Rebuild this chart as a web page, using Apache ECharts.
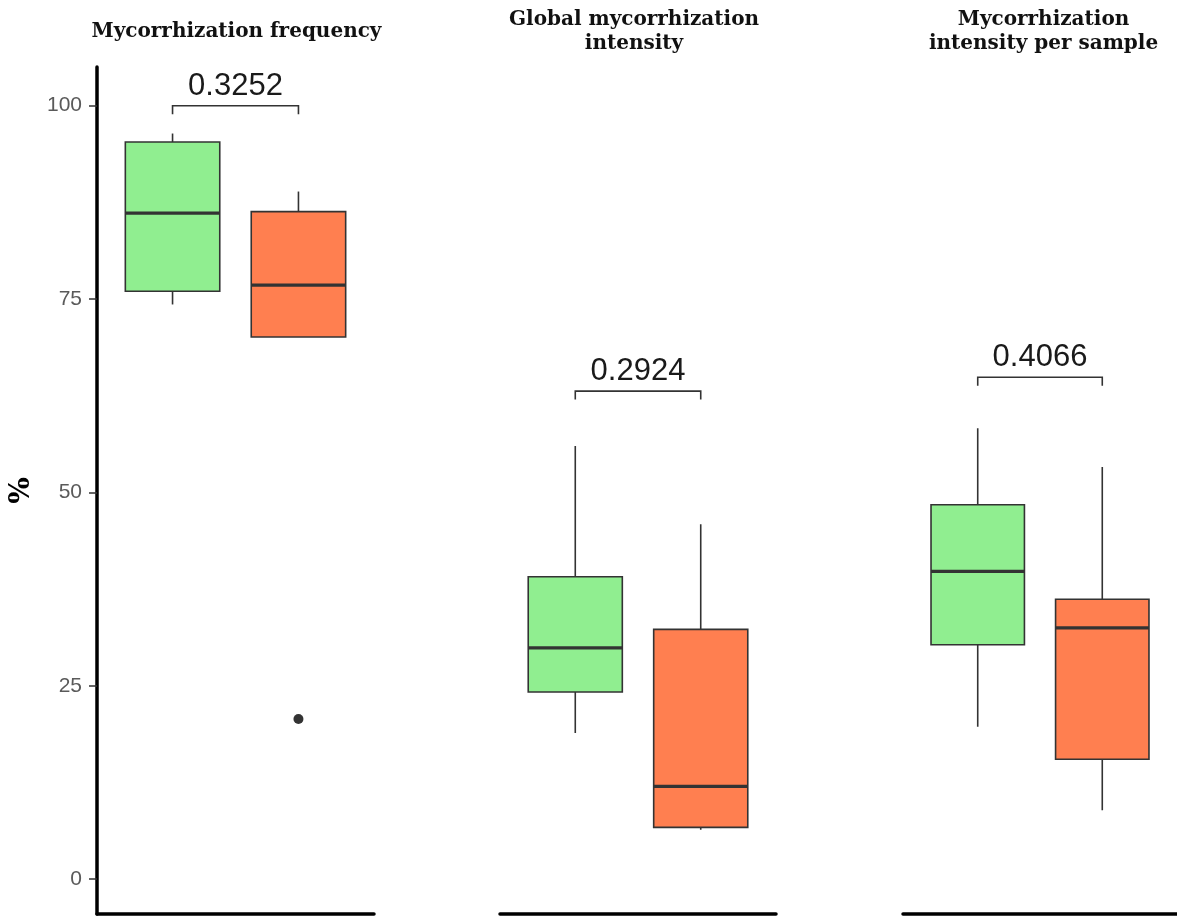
<!DOCTYPE html>
<html>
<head>
<meta charset="utf-8">
<script src="https://cdn.jsdelivr.net/npm/echarts@6/dist/echarts.min.js"></script>
<style>
html,body{margin:0;padding:0;background:#fff;}
#chart{width:1177px;height:921px;}
</style>
</head>
<body>
<div id="chart"></div>
<script>
// ---- data ----
const panelTitles = ["Mycorrhization frequency", "Global mycorrhization\nintensity", "Mycorrhization\nintensity per sample"];
const groupPositions = [1, 2];
// [lower whisker, Q1, median, Q3, upper whisker]
const greenStats = [
  [74.3, 76.0, 86.1, 95.3, 96.4],
  [18.9, 24.2, 29.9, 39.1, 56.0],
  [19.7, 30.3, 39.8, 48.4, 58.3]
];
const orangeStats = [
  [70.1, 70.1, 76.8, 86.3, 88.9],
  [6.4, 6.7, 12.0, 32.3, 45.9],
  [8.9, 15.5, 32.5, 36.2, 53.3]
];
// outliers per panel: [group position, value]
const outliers = [
  [[2, 20.7]],
  [],
  []
];
const pValues = ["0.3252", "0.2924", "0.4066"];
const bracketHeights = [100, 63.1, 64.9];
const yTicks = [0, 25, 50, 75, 100];

// ---- layout ----
const panelLeft = [97, 500, 903];
const panelWidth = [277, 276, 277];
const titleShift = [-4, -9, -3];
const gridTop = 67, gridHeight = 847;
const yMin = -4.5, yMax = 105;
const colors = ["#90EE90", "#FF7F50"];
const lineCol = "#333333";

const chart = echarts.init(document.getElementById('chart'));

const grids = [], xAxes = [], yAxes = [], series = [], titles = [];

function boxRender(fill) {
  return function (params, api) {
    const x = api.value(0);
    const low = api.coord([x, api.value(1)]);
    const q1 = api.coord([x, api.value(2)]);
    const med = api.coord([x, api.value(3)]);
    const q3 = api.coord([x, api.value(4)]);
    const high = api.coord([x, api.value(5)]);
    const hw = api.size([0.75, 0])[0] / 2;
    const cx = low[0];
    return {
      type: 'group',
      children: [
        { type: 'line', shape: { x1: cx, y1: high[1], x2: cx, y2: low[1] },
          style: { stroke: lineCol, lineWidth: 1.6 } },
        { type: 'rect', shape: { x: cx - hw, y: q3[1], width: hw * 2, height: q1[1] - q3[1] },
          style: { fill: fill, stroke: lineCol, lineWidth: 1.6 } },
        { type: 'line', shape: { x1: cx - hw, y1: med[1], x2: cx + hw, y2: med[1] },
          style: { stroke: lineCol, lineWidth: 3.2 } }
      ]
    };
  };
}

for (let p = 0; p < 3; p++) {
  grids.push({ left: panelLeft[p], width: panelWidth[p], top: gridTop, height: gridHeight, containLabel: false });
  xAxes.push({
    type: 'value', gridIndex: p, min: 0.4, max: 2.6,
    axisLine: { show: true, onZero: false, lineStyle: { color: '#000', width: 3.5 } },
    axisTick: { show: false }, axisLabel: { show: false }, splitLine: { show: false }
  });
  yAxes.push({
    type: 'value', gridIndex: p, min: yMin, max: yMax,
    name: p === 0 ? '%' : '',
    nameLocation: 'middle', nameGap: 61, nameRotate: 90,
    nameTextStyle: { fontFamily: 'DejaVu Serif', fontWeight: 'bold', fontSize: 28, color: '#000' },
    axisLine: { show: p === 0, onZero: false, lineStyle: { color: '#000', width: 3.5 } },
    axisTick: { show: p === 0, length: 8, customValues: yTicks, lineStyle: { color: '#333', width: 1.5 } },
    axisLabel: { show: p === 0, customValues: yTicks, margin: 15, color: '#5a5a5a',
      fontFamily: 'Liberation Sans', fontSize: 21 },
    splitLine: { show: false }
  });
  const lines = panelTitles[p].split('\n').length;
  titles.push({
    text: panelTitles[p],
    left: panelLeft[p] + panelWidth[p] / 2 + titleShift[p],
    top: lines === 1 ? 15 : 3,
    textAlign: 'center',
    textStyle: { fontFamily: 'DejaVu Serif', fontWeight: 'bold', fontSize: 20, color: '#111', lineHeight: 24 }
  });
  const statsSets = [greenStats, orangeStats];
  for (let g = 0; g < 2; g++) {
    series.push({
      type: 'custom', xAxisIndex: p, yAxisIndex: p,
      renderItem: boxRender(colors[g]),
      encode: { x: 0, y: [1, 2, 3, 4, 5] },
      data: [[groupPositions[g]].concat(statsSets[g][p])],
      silent: true
    });
  }
  if (outliers[p].length) {
    series.push({
      type: 'scatter', xAxisIndex: p, yAxisIndex: p,
      data: outliers[p], symbol: 'circle', symbolSize: 10,
      itemStyle: { color: lineCol, opacity: 1 }, silent: true
    });
  }
  series.push({
    type: 'custom', xAxisIndex: p, yAxisIndex: p,
    encode: { x: [0, 1], y: 2 },
    data: [[groupPositions[0], groupPositions[1], bracketHeights[p]]],
    renderItem: (function (pi) {
      return function (params, api) {
        const y = api.value(2);
        const a = api.coord([api.value(0), y]);
        const b = api.coord([api.value(1), y]);
        const tip = api.size([0, 1.1])[1];
        return {
          type: 'group',
          children: [
            { type: 'polyline', shape: { points: [[a[0], a[1] + tip], a, b, [b[0], b[1] + tip]] },
              style: { stroke: lineCol, lineWidth: 1.6, fill: null } },
            { type: 'text', x: (a[0] + b[0]) / 2, y: a[1] - 4,
              style: { text: pValues[pi], fontFamily: 'Liberation Sans', fontSize: 31,
                fill: '#1a1a1a', textAlign: 'center', textVerticalAlign: 'bottom' } }
          ]
        };
      };
    })(p),
    silent: true
  });
}

chart.setOption({
  animation: false,
  backgroundColor: '#fff',
  title: titles,
  grid: grids,
  xAxis: xAxes,
  yAxis: yAxes,
  series: series
});
</script>
</body>
</html>
